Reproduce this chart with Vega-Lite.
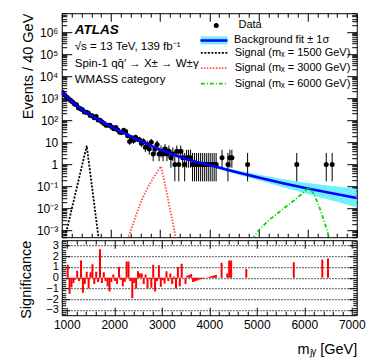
{
  "$schema": "https://vega.github.io/schema/vega-lite/v6.json",
  "background": "white",
  "padding": {"left": 17.75, "top": 12.2, "right": 5, "bottom": 5},
  "spacing": 0,
  "resolve": {"legend": {"shape": "independent", "fill": "independent", "stroke": "independent", "strokeDash": "independent"}},
  "config": {
    "font": "Liberation Sans",
    "view": {"stroke": "black", "strokeWidth": 1},
    "axis": {"domain": false, "grid": false, "minExtent": 0, "labelFont": "Liberation Sans", "labelFontSize": 12, "labelColor": "black", "tickColor": "black", "tickWidth": 1, "titleFont": "Liberation Sans", "titleFontWeight": "normal", "titleColor": "black", "titleFontSize": 14.5, "labelOverlap": false, "labelFlush": false},
    "legend": {"orient": "none", "title": null, "padding": 0, "labelFont": "Liberation Sans", "labelFontSize": 11, "labelColor": "black", "labelLimit": 200, "labelBaseline": "middle"}
  },
  "datasets": {
    "fit": [
      {"m": 1000, "f": 1995, "lo": 1861, "hi": 2139},
      {"m": 1100, "f": 1175, "lo": 1104, "hi": 1250},
      {"m": 1200, "f": 724, "lo": 685, "hi": 765},
      {"m": 1300, "f": 468, "lo": 445, "hi": 492},
      {"m": 1400, "f": 316, "lo": 302, "hi": 331},
      {"m": 1500, "f": 224, "lo": 214, "hi": 235},
      {"m": 1600, "f": 162, "lo": 155, "hi": 170},
      {"m": 1700, "f": 120, "lo": 115, "hi": 126},
      {"m": 1800, "f": 91.2, "lo": 87.1, "hi": 95.5},
      {"m": 1900, "f": 70.8, "lo": 67.6, "hi": 74.1},
      {"m": 2000, "f": 53.7, "lo": 51.3, "hi": 56.2},
      {"m": 2100, "f": 40.7, "lo": 38.8, "hi": 42.7},
      {"m": 2200, "f": 31.6, "lo": 30.0, "hi": 33.2},
      {"m": 2300, "f": 24.0, "lo": 22.8, "hi": 25.3},
      {"m": 2400, "f": 18.6, "lo": 17.6, "hi": 19.6},
      {"m": 2500, "f": 14.5, "lo": 13.7, "hi": 15.4},
      {"m": 2600, "f": 11.5, "lo": 10.8, "hi": 12.2},
      {"m": 2700, "f": 9.12, "lo": 8.55, "hi": 9.73},
      {"m": 2800, "f": 7.24, "lo": 6.75, "hi": 7.76},
      {"m": 2900, "f": 5.75, "lo": 5.33, "hi": 6.20},
      {"m": 3000, "f": 4.68, "lo": 4.32, "hi": 5.07},
      {"m": 3250, "f": 2.88, "lo": 2.63, "hi": 3.16},
      {"m": 3500, "f": 1.86, "lo": 1.68, "hi": 2.06},
      {"m": 3750, "f": 1.29, "lo": 1.14, "hi": 1.45},
      {"m": 4000, "f": 0.933, "lo": 0.813, "hi": 1.071},
      {"m": 4500, "f": 0.479, "lo": 0.389, "hi": 0.589},
      {"m": 5000, "f": 0.257, "lo": 0.191, "hi": 0.347},
      {"m": 5500, "f": 0.141, "lo": 0.0931, "hi": 0.213},
      {"m": 6000, "f": 0.0813, "lo": 0.0457, "hi": 0.145},
      {"m": 6500, "f": 0.049, "lo": 0.0229, "hi": 0.105},
      {"m": 7000, "f": 0.0302, "lo": 0.0115, "hi": 0.0794}
    ],
    "sigcurves": [
      {"m": 1056, "v": 0.0004, "label": "Signal (mₓ = 1500 GeV)"},
      {"m": 1150, "v": 0.003, "label": "Signal (mₓ = 1500 GeV)"},
      {"m": 1250, "v": 0.026, "label": "Signal (mₓ = 1500 GeV)"},
      {"m": 1350, "v": 0.23, "label": "Signal (mₓ = 1500 GeV)"},
      {"m": 1450, "v": 2.0, "label": "Signal (mₓ = 1500 GeV)"},
      {"m": 1508, "v": 7.1, "label": "Signal (mₓ = 1500 GeV)"},
      {"m": 1550, "v": 1.3, "label": "Signal (mₓ = 1500 GeV)"},
      {"m": 1600, "v": 0.18, "label": "Signal (mₓ = 1500 GeV)"},
      {"m": 1650, "v": 0.024, "label": "Signal (mₓ = 1500 GeV)"},
      {"m": 1700, "v": 0.0032, "label": "Signal (mₓ = 1500 GeV)"},
      {"m": 1752, "v": 0.0004, "label": "Signal (mₓ = 1500 GeV)"},
      {"m": 2340, "v": 0.0004, "label": "Signal (mₓ = 3000 GeV)"},
      {"m": 2450, "v": 0.002, "label": "Signal (mₓ = 3000 GeV)"},
      {"m": 2550, "v": 0.0089, "label": "Signal (mₓ = 3000 GeV)"},
      {"m": 2650, "v": 0.032, "label": "Signal (mₓ = 3000 GeV)"},
      {"m": 2750, "v": 0.089, "label": "Signal (mₓ = 3000 GeV)"},
      {"m": 2850, "v": 0.22, "label": "Signal (mₓ = 3000 GeV)"},
      {"m": 2950, "v": 0.5, "label": "Signal (mₓ = 3000 GeV)"},
      {"m": 3020, "v": 0.81, "label": "Signal (mₓ = 3000 GeV)"},
      {"m": 3080, "v": 0.2, "label": "Signal (mₓ = 3000 GeV)"},
      {"m": 3150, "v": 0.035, "label": "Signal (mₓ = 3000 GeV)"},
      {"m": 3250, "v": 0.0028, "label": "Signal (mₓ = 3000 GeV)"},
      {"m": 3325, "v": 0.0004, "label": "Signal (mₓ = 3000 GeV)"},
      {"m": 4880, "v": 0.0004, "label": "Signal (mₓ = 6000 GeV)"},
      {"m": 5000, "v": 0.001, "label": "Signal (mₓ = 6000 GeV)"},
      {"m": 5200, "v": 0.0028, "label": "Signal (mₓ = 6000 GeV)"},
      {"m": 5400, "v": 0.0063, "label": "Signal (mₓ = 6000 GeV)"},
      {"m": 5600, "v": 0.014, "label": "Signal (mₓ = 6000 GeV)"},
      {"m": 5800, "v": 0.032, "label": "Signal (mₓ = 6000 GeV)"},
      {"m": 5950, "v": 0.063, "label": "Signal (mₓ = 6000 GeV)"},
      {"m": 6050, "v": 0.089, "label": "Signal (mₓ = 6000 GeV)"},
      {"m": 6150, "v": 0.035, "label": "Signal (mₓ = 6000 GeV)"},
      {"m": 6250, "v": 0.01, "label": "Signal (mₓ = 6000 GeV)"},
      {"m": 6350, "v": 0.0022, "label": "Signal (mₓ = 6000 GeV)"},
      {"m": 6450, "v": 0.0004, "label": "Signal (mₓ = 6000 GeV)"}
    ],
    "pts": [
      {"m": 1020, "n": 1846, "lo": 1803, "hi": 1889, "s": 1.2},
      {"m": 1060, "n": 1395, "lo": 1358, "hi": 1432, "s": -1.5},
      {"m": 1100, "n": 1144, "lo": 1110, "hi": 1178, "s": -0.9},
      {"m": 1140, "n": 952, "lo": 921, "hi": 983, "s": -0.5},
      {"m": 1180, "n": 792, "lo": 764, "hi": 820, "s": -0.2},
      {"m": 1220, "n": 681, "lo": 655, "hi": 707, "s": 0.65},
      {"m": 1260, "n": 550, "lo": 527, "hi": 574, "s": -0.3},
      {"m": 1300, "n": 503, "lo": 481, "hi": 525, "s": 1.6},
      {"m": 1340, "n": 372, "lo": 353, "hi": 391, "s": -1.4},
      {"m": 1380, "n": 331, "lo": 313, "hi": 349, "s": -0.6},
      {"m": 1420, "n": 304, "lo": 287, "hi": 321, "s": 0.55},
      {"m": 1460, "n": 241, "lo": 226, "hi": 257, "s": -1.0},
      {"m": 1500, "n": 231, "lo": 216, "hi": 246, "s": 0.5},
      {"m": 1540, "n": 214, "lo": 199, "hi": 229, "s": 1.25},
      {"m": 1580, "n": 165, "lo": 152, "hi": 178, "s": -0.6},
      {"m": 1620, "n": 160, "lo": 147, "hi": 173, "s": 0.55},
      {"m": 1660, "n": 131, "lo": 120, "hi": 142, "s": -0.4},
      {"m": 1700, "n": 149, "lo": 137, "hi": 161, "s": 2.65},
      {"m": 1740, "n": 103, "lo": 93, "hi": 113, "s": -0.5},
      {"m": 1780, "n": 101, "lo": 91, "hi": 111, "s": 0.5},
      {"m": 1820, "n": 84, "lo": 75, "hi": 93, "s": -0.3},
      {"m": 1860, "n": 71, "lo": 63, "hi": 79, "s": -0.8},
      {"m": 1900, "n": 60, "lo": 52, "hi": 68, "s": -1.3},
      {"m": 1940, "n": 60, "lo": 52, "hi": 68, "s": -0.4},
      {"m": 1980, "n": 59, "lo": 51, "hi": 67, "s": 0.3},
      {"m": 2020, "n": 49, "lo": 42, "hi": 56, "s": -0.3},
      {"m": 2060, "n": 41, "lo": 35, "hi": 47, "s": -0.6},
      {"m": 2100, "n": 47, "lo": 40, "hi": 54, "s": 1.0},
      {"m": 2140, "n": 36, "lo": 30, "hi": 42, "s": -0.2},
      {"m": 2180, "n": 29, "lo": 24, "hi": 34, "s": -0.8},
      {"m": 2220, "n": 28, "lo": 23, "hi": 33, "s": -0.4},
      {"m": 2260, "n": 35, "lo": 29, "hi": 41, "s": 1.5},
      {"m": 2300, "n": 31, "lo": 25, "hi": 37, "s": 1.5},
      {"m": 2340, "n": 20, "lo": 15.5, "hi": 24.5, "s": -0.3},
      {"m": 2380, "n": 11, "lo": 7.7, "hi": 15.4, "s": -1.9},
      {"m": 2420, "n": 16, "lo": 12.0, "hi": 21.1, "s": -0.5},
      {"m": 2460, "n": 12, "lo": 8.6, "hi": 16.6, "s": -1.0},
      {"m": 2500, "n": 17, "lo": 12.9, "hi": 22.2, "s": 0.6},
      {"m": 2540, "n": 14, "lo": 10.3, "hi": 18.8, "s": 0.4},
      {"m": 2580, "n": 13, "lo": 9.4, "hi": 17.7, "s": 0.4},
      {"m": 2620, "n": 9, "lo": 6.1, "hi": 13.1, "s": -0.6},
      {"m": 2660, "n": 11, "lo": 7.7, "hi": 15.4, "s": 0.3},
      {"m": 2700, "n": 6, "lo": 3.6, "hi": 9.6, "s": -1.0},
      {"m": 2740, "n": 8, "lo": 5.2, "hi": 12.0, "s": -0.1},
      {"m": 2780, "n": 5, "lo": 2.8, "hi": 8.4, "s": -0.95},
      {"m": 2820, "n": 10, "lo": 6.9, "hi": 14.3, "s": 1.2},
      {"m": 2860, "n": 3, "lo": 1.4, "hi": 5.9, "s": -1.3},
      {"m": 2900, "n": 5, "lo": 2.8, "hi": 8.4, "s": -0.3},
      {"m": 2940, "n": 8, "lo": 5.2, "hi": 12.0, "s": 1.15},
      {"m": 2980, "n": 3, "lo": 1.4, "hi": 5.9, "s": -0.85},
      {"m": 3020, "n": 4, "lo": 2.1, "hi": 7.2, "s": -0.25},
      {"m": 3060, "n": 3, "lo": 1.4, "hi": 5.9, "s": -0.55},
      {"m": 3100, "n": 5, "lo": 2.8, "hi": 8.4, "s": 0.6},
      {"m": 3140, "n": 3, "lo": 1.4, "hi": 5.9, "s": -0.3},
      {"m": 3180, "n": 4, "lo": 2.1, "hi": 7.2, "s": 0.4},
      {"m": 3220, "n": 2, "lo": 0.71, "hi": 4.6, "s": -0.6},
      {"m": 3260, "n": 3, "lo": 1.4, "hi": 5.9, "s": 0.1},
      {"m": 3300, "n": 1, "lo": 0.17, "hi": 3.3, "s": -1.0},
      {"m": 3340, "n": 4, "lo": 2.1, "hi": 7.2, "s": 1.0},
      {"m": 3380, "n": 1, "lo": 0.17, "hi": 3.3, "s": -0.8},
      {"m": 3420, "n": 4, "lo": 2.1, "hi": 7.2, "s": 1.3},
      {"m": 3460, "n": 2, "lo": 0.71, "hi": 4.6, "s": 0.0},
      {"m": 3500, "n": 1, "lo": 0.17, "hi": 3.3, "s": -0.6},
      {"m": 3540, "n": 2, "lo": 0.71, "hi": 4.6, "s": 0.2},
      {"m": 3580, "n": 2, "lo": 0.71, "hi": 4.6, "s": 0.25},
      {"m": 3620, "n": 2, "lo": 0.71, "hi": 4.6, "s": 0.35},
      {"m": 3660, "n": 1, "lo": 0.17, "hi": 3.3, "s": -0.4},
      {"m": 3700, "n": 1, "lo": 0.17, "hi": 3.3, "s": -0.33},
      {"m": 3740, "n": 1, "lo": 0.17, "hi": 3.3, "s": -0.27},
      {"m": 3780, "n": 1, "lo": 0.17, "hi": 3.3, "s": -0.2},
      {"m": 3820, "n": 1, "lo": 0.17, "hi": 3.3, "s": -0.15},
      {"m": 3860, "n": 1, "lo": 0.17, "hi": 3.3, "s": -0.1},
      {"m": 3900, "n": 1, "lo": 0.17, "hi": 3.3, "s": -0.06},
      {"m": 3940, "n": 1, "lo": 0.17, "hi": 3.3, "s": 0.0},
      {"m": 3980, "n": 1, "lo": 0.17, "hi": 3.3, "s": 0.05},
      {"m": 4020, "n": 1, "lo": 0.17, "hi": 3.3, "s": 0.1},
      {"m": 4060, "n": 1, "lo": 0.17, "hi": 3.3, "s": 0.15},
      {"m": 4100, "n": 1, "lo": 0.17, "hi": 3.3, "s": 0.2},
      {"m": 4140, "n": 1, "lo": 0.17, "hi": 3.3, "s": 0.25},
      {"m": 4260, "n": 2, "lo": 0.71, "hi": 4.6, "s": 1.4},
      {"m": 4380, "n": 1, "lo": 0.17, "hi": 3.3, "s": 0.4},
      {"m": 4420, "n": 2, "lo": 0.71, "hi": 4.6, "s": 1.6},
      {"m": 4460, "n": 2, "lo": 0.71, "hi": 4.6, "s": 1.6},
      {"m": 4780, "n": 1, "lo": 0.17, "hi": 3.3, "s": 0.8},
      {"m": 5780, "n": 1, "lo": 0.17, "hi": 3.3, "s": 1.45},
      {"m": 6380, "n": 1, "lo": 0.17, "hi": 3.3, "s": 1.7},
      {"m": 6500, "n": 1, "lo": 0.17, "hi": 3.3, "s": 1.8}
    ]
  },
  "vconcat": [
    {
      "width": 295,
      "height": 224,
      "title": {
        "text": "ATLAS",
        "subtitle": ["√s = 13 TeV, 139 fb⁻¹", "Spin-1 qq̄′ → X± → W±γ", "WMASS category"],
        "anchor": "start", "frame": "group", "orient": "top", "offset": -73, "dx": 13,
        "font": "Liberation Sans", "fontSize": 13.5, "fontStyle": "italic", "fontWeight": "bold", "color": "black",
        "subtitleFont": "Liberation Sans", "subtitleFontSize": 11.5, "subtitleColor": "black", "subtitleLineHeight": 16.5, "subtitlePadding": 5
      },
      "resolve": {"axis": {"x": "independent", "y": "independent"}},
      "layer": [
        {
          "data": {"name": "fit"},
          "mark": {"type": "area", "clip": true},
          "encoding": {
            "x": {"field": "m", "type": "quantitative", "scale": {"domain": [1000, 7000], "nice": false, "zero": false},
                  "axis": {"orient": "bottom", "values": [1000, 2000, 3000, 4000, 5000, 6000, 7000], "tickSize": -8, "labels": false, "title": null}},
            "y": {"field": "lo", "type": "quantitative", "scale": {"type": "log", "domain": [0.0005, 7200000], "nice": false},
                  "axis": {"orient": "left", "values": [0.001, 0.01, 0.1, 1, 10, 100, 1000, 10000, 100000, 1000000], "tickSize": -10, "labelPadding": 14,
                           "labelExpr": "['10⁻³','10⁻²','10⁻¹','1','10','10²','10³','10⁴','10⁵','10⁶'][round(log(datum.value)/LN10)+3]",
                           "title": "Events / 40 GeV", "titleX": -33, "titleY": 0, "titleAngle": -90, "titleAlign": "right", "titleBaseline": "middle"}},
            "y2": {"field": "hi"},
            "fill": {"datum": "Background fit ± 1σ", "type": "nominal", "scale": {"range": ["#70f0ff"]},
                     "legend": {"orient": "none", "title": null, "legendX": 146.75, "legendY": 21.8, "symbolType": "M-4,0H4V-1.2H-4V1.2H4V0Z", "symbolSize": 45.6,
                                "symbolStrokeColor": "#0000ff", "symbolStrokeWidth": 2.5, "symbolDash": [27, 400], "symbolOpacity": 1, "labelOffset": 14.45}}
          }
        },
        {
          "data": {"name": "pts"},
          "mark": {"type": "rule", "color": "black", "strokeWidth": 1, "clip": true},
          "encoding": {
            "x": {"field": "m", "type": "quantitative", "scale": {"domain": [1000, 7000], "nice": false, "zero": false},
                  "axis": {"orient": "bottom", "values": [1200,1400,1600,1800,2200,2400,2600,2800,3200,3400,3600,3800,4200,4400,4600,4800,5200,5400,5600,5800,6200,6400,6600,6800], "tickSize": -4, "labels": false, "title": null}},
            "y": {"field": "lo", "type": "quantitative", "scale": {"type": "log", "domain": [0.0005, 7200000], "nice": false},
                  "axis": {"orient": "left", "values": [0.0005,0.0006,0.0007,0.0008,0.0009,0.002,0.003,0.004,0.005,0.006,0.007,0.008,0.009,0.02,0.03,0.04,0.05,0.06,0.07,0.08,0.09,0.2,0.3,0.4,0.5,0.6,0.7,0.8,0.9,2,3,4,5,6,7,8,9,20,30,40,50,60,70,80,90,200,300,400,500,600,700,800,900,2000,3000,4000,5000,6000,7000,8000,9000,20000,30000,40000,50000,60000,70000,80000,90000,200000,300000,400000,500000,600000,700000,800000,900000,2000000,3000000,4000000,5000000,6000000,7000000], "tickSize": -5, "labels": false, "title": null}},
            "y2": {"field": "hi"}
          }
        },
        {
          "data": {"name": "pts"},
          "mark": {"type": "point", "filled": true, "fill": "black", "color": "black", "size": 25, "opacity": 1, "strokeWidth": 0, "clip": true},
          "encoding": {
            "x": {"field": "m", "type": "quantitative", "scale": {"domain": [1000, 7000], "nice": false, "zero": false},
                  "axis": {"orient": "top", "values": [1000, 2000, 3000, 4000, 5000, 6000, 7000], "tickSize": -8, "labels": false, "title": null}},
            "y": {"field": "n", "type": "quantitative", "scale": {"type": "log", "domain": [0.0005, 7200000], "nice": false},
                  "axis": {"orient": "right", "values": [0.001, 0.01, 0.1, 1, 10, 100, 1000, 10000, 100000, 1000000], "tickSize": -10, "labels": false, "title": null}},
            "shape": {"datum": "Data", "type": "nominal", "scale": {"range": ["circle"]},
                      "legend": {"orient": "none", "title": null, "legendX": 149, "legendY": 6.8, "symbolSize": 25, "symbolFillColor": "black", "symbolStrokeWidth": 0, "symbolOpacity": 1, "labelOffset": 16.7}}
          }
        },
        {
          "data": {"name": "fit"},
          "mark": {"type": "line", "color": "#0000ff", "strokeWidth": 2.5, "clip": true},
          "encoding": {
            "x": {"field": "m", "type": "quantitative", "scale": {"domain": [1000, 7000], "nice": false, "zero": false},
                  "axis": {"orient": "top", "values": [1200,1400,1600,1800,2200,2400,2600,2800,3200,3400,3600,3800,4200,4400,4600,4800,5200,5400,5600,5800,6200,6400,6600,6800], "tickSize": -4, "labels": false, "title": null}},
            "y": {"field": "f", "type": "quantitative", "scale": {"type": "log", "domain": [0.0005, 7200000], "nice": false},
                  "axis": {"orient": "right", "values": [0.0005,0.0006,0.0007,0.0008,0.0009,0.002,0.003,0.004,0.005,0.006,0.007,0.008,0.009,0.02,0.03,0.04,0.05,0.06,0.07,0.08,0.09,0.2,0.3,0.4,0.5,0.6,0.7,0.8,0.9,2,3,4,5,6,7,8,9,20,30,40,50,60,70,80,90,200,300,400,500,600,700,800,900,2000,3000,4000,5000,6000,7000,8000,9000,20000,30000,40000,50000,60000,70000,80000,90000,200000,300000,400000,500000,600000,700000,800000,900000,2000000,3000000,4000000,5000000,6000000,7000000], "tickSize": -5, "labels": false, "title": null}}
          }
        },
        {
          "data": {"name": "sigcurves"},
          "mark": {"type": "line", "strokeWidth": 1.8, "clip": true},
          "encoding": {
            "x": {"field": "m", "type": "quantitative", "scale": {"domain": [1000, 7000], "nice": false, "zero": false}, "axis": null},
            "y": {"field": "v", "type": "quantitative", "scale": {"type": "log", "domain": [0.0005, 7200000], "nice": false}, "axis": null},
            "stroke": {"field": "label", "type": "nominal",
                       "scale": {"domain": ["Signal (mₓ = 1500 GeV)", "Signal (mₓ = 3000 GeV)", "Signal (mₓ = 6000 GeV)"], "range": ["black", "#ff4d4d", "#00dd00"]},
                       "legend": {"orient": "none", "title": null, "legendX": 147.1, "legendY": 34.1, "symbolType": "M-4,0H4", "symbolSize": 45.6, "symbolStrokeWidth": 1.8, "labelOffset": 14.8, "rowPadding": 3.4}},
            "strokeDash": {"field": "label", "type": "nominal",
                           "scale": {"domain": ["Signal (mₓ = 1500 GeV)", "Signal (mₓ = 3000 GeV)", "Signal (mₓ = 6000 GeV)"], "range": [[2, 1.5], [1.5, 1.5], [4, 2, 1, 2]]},
                           "legend": {"orient": "none", "title": null, "legendX": 147.1, "legendY": 34.1, "symbolType": "M-4,0H4", "symbolSize": 45.6, "symbolStrokeWidth": 1.8, "labelOffset": 14.8, "rowPadding": 3.4}}
          }
        }
      ]
    },
    {
      "width": 295,
      "height": 75,
      "resolve": {"axis": {"x": "independent", "y": "independent"}},
      "layer": [
        {
          "data": {"name": "pts"},
          "mark": {"type": "bar", "color": "#ff0000", "size": 2, "orient": "vertical", "clip": true},
          "encoding": {
            "x": {"field": "m", "type": "quantitative", "scale": {"domain": [1000, 7000], "nice": false, "zero": false},
                  "axis": {"orient": "bottom", "values": [1000, 2000, 3000, 4000, 5000, 6000, 7000], "format": "d", "tickSize": -8, "labelPadding": 12,
                           "title": "mⱼᵧ [GeV]", "titleX": 295, "titleY": 38, "titleAlign": "right", "titleBaseline": "alphabetic", "titleFontSize": 14.5}},
            "y": {"field": "s", "type": "quantitative", "scale": {"domain": [-3.5, 3.5], "nice": false},
                  "axis": {"orient": "left", "values": [-3, -2, -1, 0, 1, 2, 3], "tickSize": -8, "labelPadding": 11.5, "labelFontSize": 11,
                           "grid": true, "gridDash": [1.5, 1.5], "gridColor": "#222", "gridWidth": 1,
                           "title": "Significance", "titleX": -35, "titleY": 0, "titleAngle": -90, "titleAlign": "right", "titleBaseline": "middle"}}
          }
        },
        {
          "mark": {"type": "rule", "color": "#0000ff", "strokeWidth": 1.5},
          "encoding": {"y": {"datum": 0, "type": "quantitative", "scale": {"domain": [-3.5, 3.5], "nice": false}, "axis": null}}
        },
        {
          "data": {"name": "pts"},
          "mark": {"type": "bar", "size": 2, "orient": "vertical", "opacity": 0},
          "encoding": {
            "x": {"field": "m", "type": "quantitative", "scale": {"domain": [1000, 7000], "nice": false, "zero": false},
                  "axis": {"orient": "bottom", "values": [1200,1400,1600,1800,2200,2400,2600,2800,3200,3400,3600,3800,4200,4400,4600,4800,5200,5400,5600,5800,6200,6400,6600,6800], "tickSize": -4, "labels": false, "title": null}},
            "y": {"field": "s", "type": "quantitative", "scale": {"domain": [-3.5, 3.5], "nice": false},
                  "axis": {"orient": "left", "values": [-3.4,-3.2,-2.8,-2.6,-2.4,-2.2,-1.8,-1.6,-1.4,-1.2,-0.8,-0.6,-0.4,-0.2,0.2,0.4,0.6,0.8,1.2,1.4,1.6,1.8,2.2,2.4,2.6,2.8,3.2,3.4], "tickSize": -4, "labels": false, "title": null}}
          }
        },
        {
          "data": {"name": "pts"},
          "mark": {"type": "bar", "size": 2, "orient": "vertical", "opacity": 0},
          "encoding": {
            "x": {"field": "m", "type": "quantitative", "scale": {"domain": [1000, 7000], "nice": false, "zero": false},
                  "axis": {"orient": "top", "values": [1000, 2000, 3000, 4000, 5000, 6000, 7000], "tickSize": -8, "labels": false, "title": null}},
            "y": {"field": "s", "type": "quantitative", "scale": {"domain": [-3.5, 3.5], "nice": false},
                  "axis": {"orient": "right", "values": [-3, -2, -1, 0, 1, 2, 3], "tickSize": -8, "labels": false, "title": null}}
          }
        },
        {
          "data": {"name": "pts"},
          "mark": {"type": "bar", "size": 2, "orient": "vertical", "opacity": 0},
          "encoding": {
            "x": {"field": "m", "type": "quantitative", "scale": {"domain": [1000, 7000], "nice": false, "zero": false},
                  "axis": {"orient": "top", "values": [1200,1400,1600,1800,2200,2400,2600,2800,3200,3400,3600,3800,4200,4400,4600,4800,5200,5400,5600,5800,6200,6400,6600,6800], "tickSize": -4, "labels": false, "title": null}},
            "y": {"field": "s", "type": "quantitative", "scale": {"domain": [-3.5, 3.5], "nice": false},
                  "axis": {"orient": "right", "values": [-3.4,-3.2,-2.8,-2.6,-2.4,-2.2,-1.8,-1.6,-1.4,-1.2,-0.8,-0.6,-0.4,-0.2,0.2,0.4,0.6,0.8,1.2,1.4,1.6,1.8,2.2,2.4,2.6,2.8,3.2,3.4], "tickSize": -4, "labels": false, "title": null}}
          }
        }
      ]
    }
  ]
}
